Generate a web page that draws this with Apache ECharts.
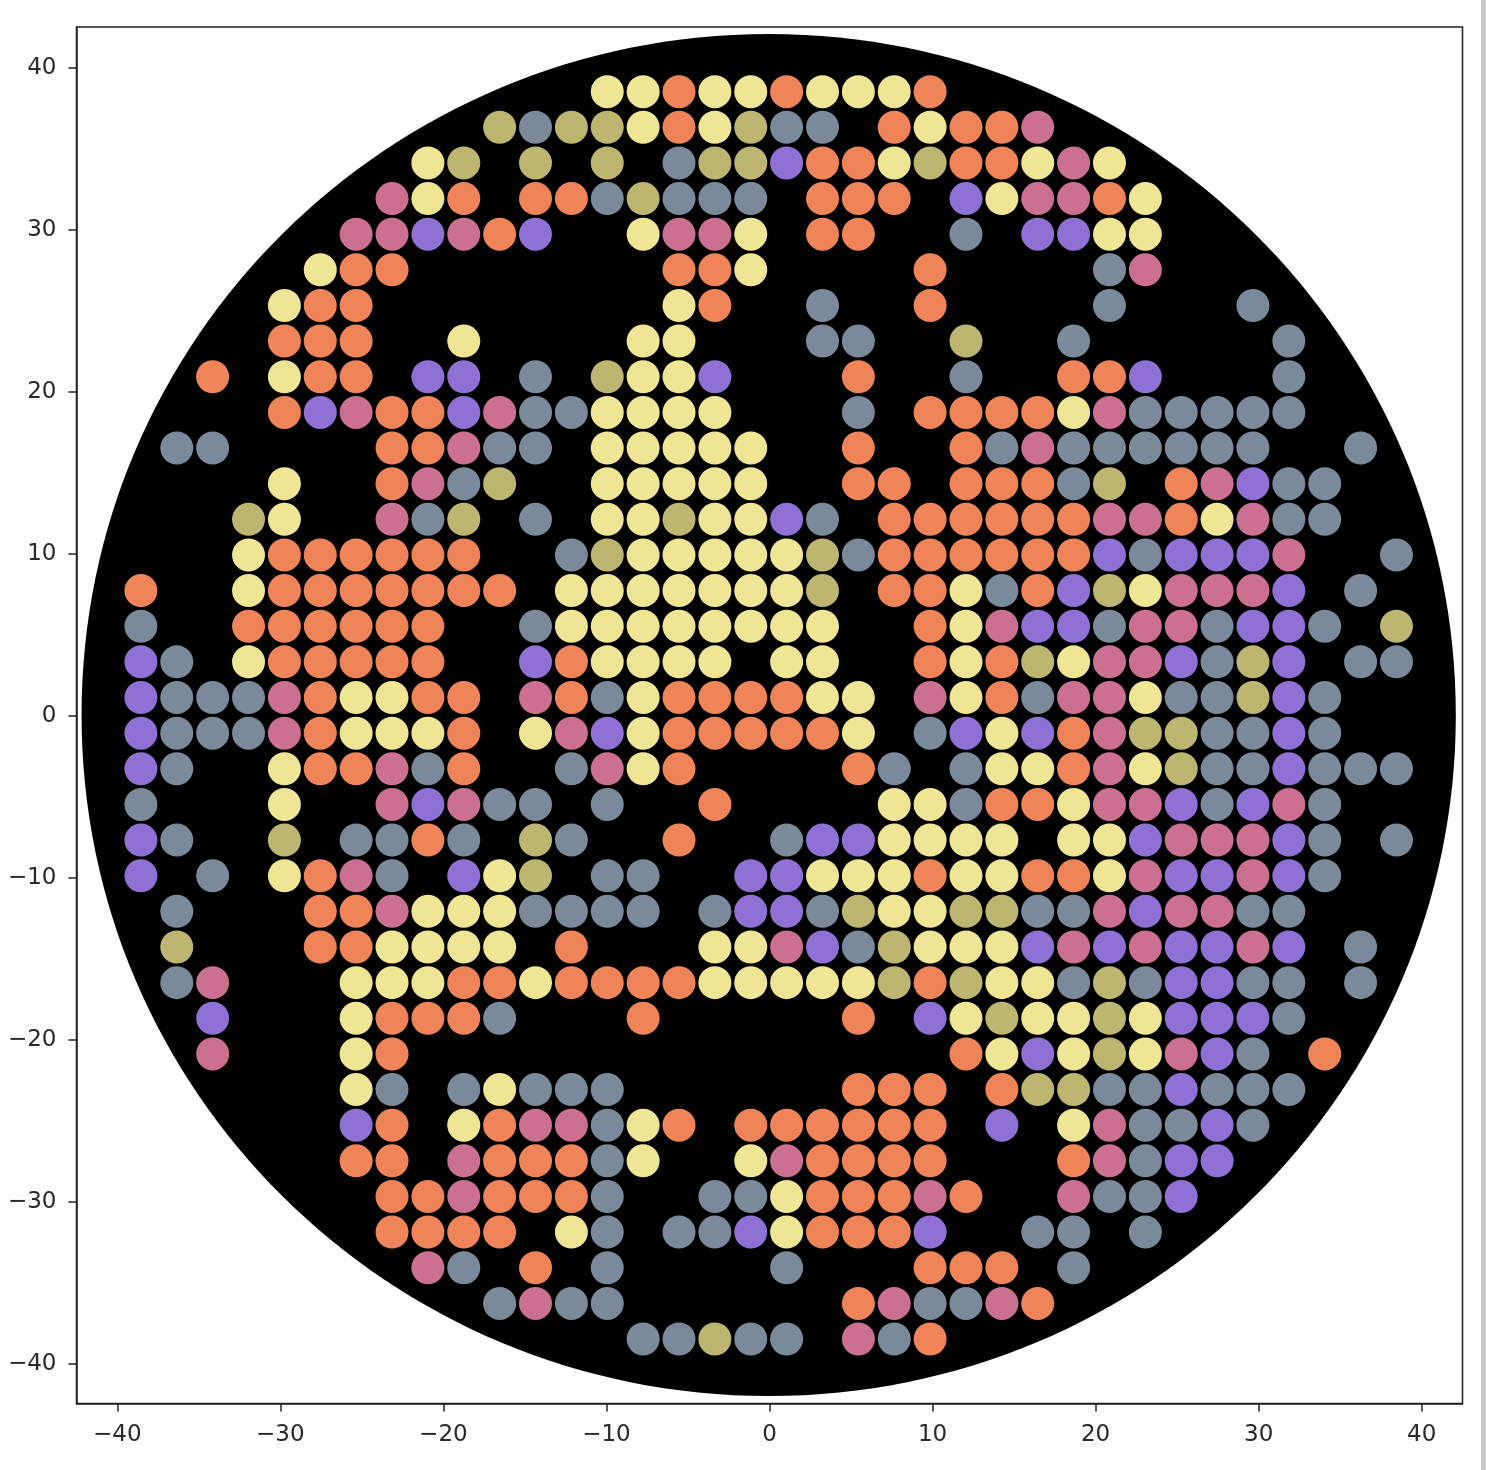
<!DOCTYPE html>
<html>
<head>
<meta charset="utf-8">
<style>html,body{margin:0;padding:0;background:#fdfdfd;overflow:hidden}#c{width:1486px;height:1470px}</style>
<script src="https://cdn.jsdelivr.net/npm/echarts@6/dist/echarts.min.js"></script>
</head>
<body>
<div id="c"></div>
<script>
const xValues = [-38.55,-36.35,-34.15,-31.95,-29.75,-27.55,-25.35,-23.15,-20.95,-18.75,-16.55,-14.35,-12.15,-9.95,-7.75,-5.55,-3.35,-1.15,1.05,3.25,5.45,7.65,9.85,12.05,14.25,16.45,18.65,20.85,23.05,25.25,27.45,29.65,31.85,34.05,36.25,38.45];
const yValues = [38.55,36.35,34.15,31.95,29.75,27.55,25.35,23.15,20.95,18.75,16.55,14.35,12.15,9.95,7.75,5.55,3.35,1.15,-1.05,-3.25,-5.45,-7.65,-9.85,-12.05,-14.25,-16.45,-18.65,-20.85,-23.05,-25.25,-27.45,-29.65,-31.85,-34.05,-36.25,-38.45];
const tickValues = [-40,-30,-20,-10,0,10,20,30,40];
const discCentre = [-0.05, 0.07];
const discRadii = [42.14, 42.04];
const gridRows = [
".............YYOYYOYYYO.............",
"..........KSKKYOYKSS.OYOOM..........",
"........YK.K.K.SKKPOOYKOOYMY........",
".......MYO.OOSKSSS.OOO.PYMMOY.......",
"......MMPMOP..YMMY.OO..S.PPYY.......",
".....YOO.......OOY....O....SM.......",
"....YOO........YO..S..O....S...S....",
"....OOO..Y....YY...SS..K..S.....S...",
"..O.YOO.PP.S.KYYP...O..S..OOP...S...",
"....OPMOOPMSSYYYY...S.OOOOYMSSSSS...",
".SS....OOMSS.YYYYY..O..OSMSSSSSS..S.",
"....Y..OMSK..YYYYY..OO.OOOSK.OMPSS..",
"...KY..MSK.S.YYKYYPS.OOOOOOMMOYMSS..",
"...YOOOOOO..SKYYYYYKSOOOOOOPSPPPM..S",
"O..YOOOOOOO.YYYYYYYK.OOYSOPKYMMMP.S.",
"S..OOOOOO..SYYYYYYYY..OYMPPSMMSPPS.K",
"PS.YOOOOO..POYYYY.YY..OYOKYMMPSKP.SS",
"PSSSMOYYOO.MOSYOOOOYY.MYOSMMYSSKPS..",
"PSSSMOYYYO.YMPYOOOOOY.SPYPOMKKSSPS..",
"PS..YOOMSO..SMYO....OS.SYYOMYKSSPSSS",
"S...Y..MPMSS.S..O....YYSOOYMMPSPMS..",
"PS..K.SSOS.KS..O..SPPYYYY.YYPMMMPS.S",
"P.S.YOMS.PYK.SS..PPYYYOYYOOYMPPMPS..",
".S...OOMYYYSSSS.SPPSKYYKKSSMPMMSS...",
".K...OOYYYY.O...YYMPSKYYYPMPMPPMP.S.",
".SM...YYYOOYOOOOYYYYYKOKYYSKSPPSS.S.",
"..P...YOOOS...O.....O.PYKYYKYPPPS...",
"..M...YO...............OYPYKYMPS.O..",
"......YS.SYSSS......OOO.OKKSSPSSS...",
"......PO.YOMMSYO.OOOOOO.P.YMSSPS....",
"......OO.MOOOSY..YMOOOO...OMSPP.....",
".......OOMOOOS..SSYOOOMO..MSSP......",
".......OOOO.YS.SSPYOOOP..SS.S.......",
"........MS.O.S....S...OOO.S.........",
"..........SMSS......OMSSMO..........",
"..............SSKSS.MSO............."
];
const colourKeys = ["Y","O","S","P","M","K"];
const colourValues = ["#EEE695","#F08459","#7B8A9A","#8F71D6","#CB7091","#BDB671"];

const pointsFor = key => {
  const out = [];
  gridRows.forEach((row, r) => {
    [...row].forEach((ch, c) => { if (ch === key) out.push([xValues[c], yValues[r]]); });
  });
  return out;
};

const fmt = v => String(v).replace("-", "\u2212");
const axisCommon = {
  type: "value", splitLine: {show: false},
  axisLine: {show: true, onZero: false, lineStyle: {color: "#222", width: 1.5}},
  axisTick: {show: true, length: 8, customValues: tickValues, lineStyle: {color: "#222", width: 1.5}},
};
const labelCommon = {
  customValues: tickValues, formatter: fmt, color: "#2a2a2a",
  fontFamily: "DejaVu Sans", fontSize: 23
};

const chart = echarts.init(document.getElementById("c"), null, {renderer: "canvas", width: 1486, height: 1470});
chart.setOption({
  animation: false,
  backgroundColor: "#fdfdfd",
  grid: {left: 76.5, top: 27, width: 1386, height: 1376.5, show: true, backgroundColor: "#fff", borderColor: "#222", borderWidth: 1.5},
  xAxis: {...axisCommon, min: -42.5, max: 42.5, axisLabel: {...labelCommon, margin: 20}},
  yAxis: {...axisCommon, min: -42.43, max: 42.54, axisLabel: {...labelCommon, margin: 20, padding: [12, 0, 0, 0]}},
  graphic: [{type: "rect", left: 1481, top: 0, shape: {width: 5, height: 1470}, style: {fill: "#c8c8c8"}, silent: true}],
  series: [
    {
      type: "custom", name: "disc", coordinateSystem: "cartesian2d", silent: true, z: 1,
      data: [discCentre],
      renderItem: (params, api) => {
        const c = api.coord(discCentre);
        const e = api.coord([discCentre[0] + discRadii[0], discCentre[1] + discRadii[1]]);
        return {type: "ellipse", shape: {cx: c[0], cy: c[1], rx: e[0] - c[0], ry: c[1] - e[1]}, style: {fill: "#000"}};
      }
    },
    ...colourKeys.map((k, i) => ({
      type: "scatter", name: k, z: 2, symbol: "circle", symbolSize: 33, silent: true,
      data: pointsFor(k), itemStyle: {color: colourValues[i], opacity: 1}
    }))
  ]
});
</script>
</body>
</html>
